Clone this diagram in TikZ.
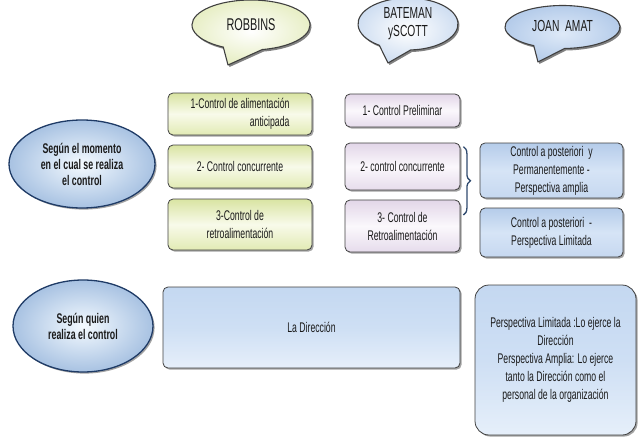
\documentclass[tikz,border=0pt]{standalone}
\usepackage{fontspec}
\setmainfont{Liberation Sans}[FakeStretch=0.62, BoldFeatures={FakeStretch=0.62}]
\newfontfamily\elfont{Liberation Sans}[FakeStretch=0.63, BoldFeatures={FakeStretch=0.63}]
\newfontfamily\hdrfont{Liberation Sans}[FakeStretch=0.64]
\usetikzlibrary{shapes.geometric,shadows,decorations.pathreplacing,calc}
\definecolor{rT}{HTML}{D9E4A2}
\definecolor{rM}{HTML}{F8FAEA}
\definecolor{rB}{HTML}{E2EBB4}
\definecolor{bT}{HTML}{E2D6E8}
\definecolor{bM}{HTML}{FBF8FC}
\definecolor{bB}{HTML}{E6DCEC}
\definecolor{jT}{HTML}{B5CCEA}
\definecolor{jM}{HTML}{D6E4F6}
\definecolor{jB}{HTML}{C6D8F0}
\definecolor{dT}{HTML}{C4D8F1}
\definecolor{dM}{HTML}{CEDFF4}
\definecolor{dB}{HTML}{E6EFFA}
\definecolor{eIn}{HTML}{F4FAFF}
\definecolor{eOut}{HTML}{A8C2E2}
\definecolor{eLine}{HTML}{1F3B66}
\definecolor{braceC}{HTML}{2F4A6E}
\definecolor{txt}{HTML}{1A1A1A}
\tikzset{
  x=1pt, y=1pt,
  every node/.style={font=\fontsize{14}{18}\selectfont, text=txt},
  shad/.style={drop shadow={shadow xshift=1.6pt, shadow yshift=-1.6pt, fill=black!60, opacity=0.6}},
  boxbase/.style={rectangle, rounded corners=5pt, draw=black!75, line width=0.8pt, shad, inner sep=2pt},
  rbox/.style={boxbase, top color=rT, bottom color=rB, middle color=rM, minimum width=144pt},
  bbox/.style={boxbase, top color=bT, bottom color=bB, middle color=bM, minimum width=115pt},
  jbox/.style={boxbase, top color=jT, bottom color=jB, middle color=jM, minimum width=143pt},
  dbox/.style={boxbase, top color=dT, bottom color=dB, middle color=dM},
  ellbox/.style={ellipse, draw=eLine, line width=1.3pt, inner color=eIn, outer color=eOut, shad, inner sep=0pt,
                 font=\fontsize{14}{16}\elfont\bfseries, align=center},
  bubble/.style={draw=black!75, line width=1.1pt, line join=round,
                 drop shadow={shadow xshift=1.5pt, shadow yshift=-2pt, fill=black!70, opacity=0.7}},
  hdr/.style={font=\fontsize{17}{18}\hdrfont, align=center, inner sep=0pt},
}
\begin{document}
\begin{tikzpicture}
\useasboundingbox (0,0) rectangle (638,-439);

% ---- speech bubbles ----
\path[bubble, inner color=white, outer color=rT!65!white]
  (251,-25) ++(281:59 and 25) arc[start angle=281, end angle=602, x radius=59, y radius=25] -- (228,-65) -- cycle;
\node[hdr] (hdrR) at (251,-25) {ROBBINS};

\path[bubble, inner color=white, outer color=jT!65!white]
  (408,-24) ++(273:50 and 26) arc[start angle=273, end angle=595, x radius=50, y radius=26] -- (388,-63) -- cycle;
\node[hdr, font=\fontsize{16}{18}\hdrfont] (hdrB) at (408,-24) {BATEMAN\\ySCOTT};

\path[bubble, inner color=jM!80!white, outer color=jT]
  (562.5,-27) ++(272:57.5 and 21.5) arc[start angle=272, end angle=600, x radius=57.5, y radius=21.5] -- (538,-62) -- cycle;
\node[hdr, font=\fontsize{16}{18}\hdrfont] (hdrJ) at (562.5,-26) {JOAN \ AMAT};

% ---- left ellipses ----
\node[ellbox, minimum width=146pt, minimum height=88pt] (ell1) at (82,-164)
  {Según el momento\\en el cual se realiza\\el control};
\node[ellbox, minimum width=140pt, minimum height=92pt] (ell2) at (83,-326)
  {Según quien\\realiza el control};

% ---- Robbins column ----
\node[rbox, minimum height=42pt, align=right] (r1) at (240,-114) {1-Control de alimentación\\anticipada};
\node[rbox, minimum height=43pt] (r2) at (240,-166.5) {2- Control concurrente};
\node[rbox, minimum height=51pt, align=center] (r3) at (240,-224.5) {3-Control de\\retroalimentación};

% ---- Bateman column ----
\node[bbox, minimum height=33pt] (b1) at (402.5,-110.5) {1- Control Preliminar};
\node[bbox, minimum height=47pt] (b2) at (402.5,-166.5) {2- control concurrente};
\node[bbox, minimum height=52pt, align=center] (b3) at (402.5,-226) {3- Control de\\Retroalimentación};

% ---- Joan Amat column ----
\node[jbox, minimum height=55pt, align=center] (j1) at (551.5,-170.5)
  {Control a posteriori \ y\\Permanentemente -\\Perspectiva amplia};
\node[jbox, minimum height=49pt, align=center] (j2) at (551.5,-232.5)
  {Control a posteriori \ -\\Perspectiva Limitada};

% ---- brace ----
\coordinate (brTop) at ($(b2.north east)+(3,-4)$);
\coordinate (brBot) at ($(b3.east)+(3,11)$);
\draw[braceC, line width=1.3pt, decorate, decoration={brace, amplitude=7pt}] (brTop) -- (brBot);

% ---- bottom row ----
\node[dbox, minimum width=297pt, minimum height=81pt] (dir) at (311.5,-327.5) {La Dirección};
\node[dbox, rounded corners=14pt, minimum width=161pt, minimum height=150pt, align=center] (big) at (555.5,-360)
  {Perspectiva Limitada :Lo ejerce la\\Dirección\\Perspectiva Amplia: Lo ejerce\\tanto la Dirección como el\\personal de la organización};
\end{tikzpicture}
\end{document}
